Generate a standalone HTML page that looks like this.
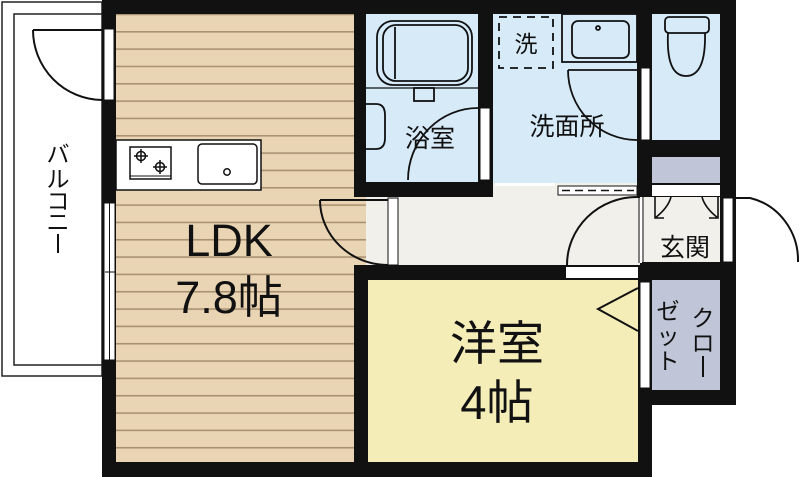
<!DOCTYPE html>
<html><head><meta charset="utf-8"><style>
html,body{margin:0;padding:0;background:#fff}
svg{display:block}
text{font-family:"Liberation Sans","Noto Sans CJK JP",sans-serif;fill:#111}
</style></head><body>
<svg width="800" height="477" viewBox="0 0 800 477" xmlns="http://www.w3.org/2000/svg">
<defs>
<pattern id="fl" x="0" y="31" width="10" height="17.33" patternUnits="userSpaceOnUse">
<rect width="10" height="17.33" fill="#e9d4b3"/><rect y="0" width="10" height="1.6" fill="#a99274"/>
</pattern>
</defs>
<rect x="2" y="2" width="100" height="374" fill="#fff" stroke="#222" stroke-width="1.5"/>
<rect x="14" y="14" width="88" height="351" fill="#fff" stroke="#222" stroke-width="1.5"/>
<rect x="102" y="0" width="634" height="477" fill="#111"/>
<rect x="652" y="405" width="84" height="72" fill="#fff"/>
<rect x="736" y="262" width="64" height="215" fill="#fff"/>
<rect x="116" y="14" width="238" height="448" fill="url(#fl)"/>
<rect x="354" y="197" width="14" height="68" fill="url(#fl)"/>
<rect x="366" y="14" width="112" height="168" fill="#d6eaf8"/>
<rect x="493" y="14" width="144" height="169" fill="#d6eaf8"/>
<rect x="652" y="14" width="68" height="126" fill="#d6eaf8"/>
<rect x="366" y="197" width="274" height="68" fill="#f2f0ea"/>
<rect x="493" y="183" width="144" height="14" fill="#f2f0ea"/>
<rect x="641" y="197" width="79" height="65" fill="#f2f0ea"/>
<rect x="652" y="157" width="68" height="26" fill="#c0c6d8"/>
<rect x="652" y="185" width="68" height="11" fill="#fff"/>
<rect x="368" y="280" width="270" height="182" fill="#f5edb8"/>
<rect x="652" y="280" width="68" height="110" fill="#c0c6d8"/>

<g fill="none" stroke="#111" stroke-width="2">
<path d="M33 30 H102 M33 30 A70 70 0 0 0 102 100"/>
</g>
<rect x="104" y="29" width="10" height="71" fill="#fff" stroke="#111" stroke-width="1"/>
<rect x="104" y="203" width="11" height="157" fill="#fff" stroke="#111" stroke-width="1"/>
<line x1="109.5" y1="203" x2="109.5" y2="360" stroke="#111" stroke-width="1"/>
<line x1="105" y1="272" x2="115" y2="272" stroke="#111" stroke-width="1"/>

<rect x="116" y="140" width="145" height="50" fill="#fff" stroke="#111" stroke-width="1.5"/>
<rect x="130" y="147" width="41" height="32" fill="#fff" stroke="#111" stroke-width="1.5"/>
<line x1="130" y1="176" x2="171" y2="176" stroke="#111" stroke-width="1"/>
<g fill="none" stroke="#111" stroke-width="1.5">
<circle cx="141" cy="156" r="4.5"/><circle cx="160" cy="167" r="4.5"/>
<path d="M141 149v14M134 156h14M160 160v14M153 167h14"/>
<rect x="198" y="144" width="59" height="40" rx="4"/>
<circle cx="227" cy="172" r="3.2"/>
</g>

<g fill="none" stroke="#111" stroke-width="2">
<path d="M320 200 H388 M320 200 A68 65 0 0 0 388 265"/>
</g>
<rect x="388" y="198" width="10" height="67" fill="#fff" stroke="#111" stroke-width="1"/>

<g fill="none" stroke="#111" stroke-width="1.8">
<rect x="377" y="21" width="95" height="64" rx="16"/>
<rect x="383" y="25" width="85" height="56" rx="13"/>
<line x1="395" y1="27" x2="395" y2="79"/>
<rect x="414" y="88" width="20" height="13"/>
<line x1="366" y1="88" x2="478" y2="88" stroke-width="1.2"/>
<path d="M366 104 H376 Q385 104 385 115 V138 Q385 149 376 149 H366"/>
<path d="M408 180 A70 72 0 0 1 478 108"/>
</g>
<rect x="480" y="108" width="10" height="72" fill="#fff" stroke="#111" stroke-width="1"/>

<g fill="none" stroke="#111" stroke-width="1.8">
<rect x="499" y="17" width="54" height="51" stroke-dasharray="8 6"/>
<rect x="562" y="14" width="75" height="48"/>
<rect x="572" y="21" width="57" height="37" rx="6"/>
<circle cx="598" cy="28" r="2"/>
<path d="M568 70 H637 M568 70 A69 70 0 0 0 637 140"/>
</g>
<rect x="641" y="68" width="9" height="72" fill="#fff" stroke="#111" stroke-width="1"/>
<rect x="495" y="183" width="60" height="3" fill="#fff"/>
<rect x="558" y="186" width="79" height="9" fill="#fff" stroke="#111" stroke-width="1"/>
<line x1="562" y1="190.5" x2="634" y2="190.5" stroke="#111" stroke-width="1.5" stroke-dasharray="8 5"/>

<g fill="none" stroke="#111" stroke-width="1.8">
<rect x="665" y="17" width="44" height="16" rx="4"/>
<path d="M668 33 Q666 76 686 76 Q706 76 705 33"/>
</g>

<g fill="none" stroke="#111" stroke-width="2">
<path d="M567 265 A70 68 0 0 1 637 197 H640"/>
</g>
<rect x="566" y="267" width="72" height="11" fill="#fff"/>
<line x1="641" y1="197" x2="641" y2="263" stroke="#fff" stroke-width="2"/>
<line x1="639" y1="197" x2="639" y2="263" stroke="#111" stroke-width="1"/>
<line x1="643" y1="197" x2="643" y2="263" stroke="#111" stroke-width="1"/>

<g fill="none" stroke="#111" stroke-width="1.6">
<path d="M655 197 V218 H664 M655 218 Q668 208 671 197 M718 197 V218 H709 M718 218 Q705 208 702 197"/>
</g>
<rect x="723" y="198" width="10" height="64" fill="#fff" stroke="#111" stroke-width="1"/>
<g fill="none" stroke="#111" stroke-width="2">
<path d="M736 198 H750 A62 64 0 0 1 798 262"/>
</g>

<rect x="640" y="282" width="10" height="106" fill="#fff" stroke="#111" stroke-width="1"/>
<path d="M638 288 L598 309 L638 331" fill="none" stroke="#111" stroke-width="2"/>

<text x="229" y="256" font-size="45" text-anchor="middle">LDK</text>
<text x="229" y="313" font-size="45" text-anchor="middle">7.8帖</text>
<text x="497" y="360" font-size="47" text-anchor="middle">洋室</text>
<text x="497" y="419" font-size="47" text-anchor="middle">4帖</text>
<text x="430" y="147" font-size="25" text-anchor="middle">浴室</text>
<text x="567" y="135" font-size="25" text-anchor="middle">洗面所</text>
<text x="526" y="52" font-size="23" text-anchor="middle">洗</text>
<text x="685" y="256" font-size="25" text-anchor="middle">玄関</text>
<text font-size="23" text-anchor="middle"><tspan x="58" y="162">バ</tspan><tspan x="58" y="187">ル</tspan><tspan x="58" y="209">コ</tspan><tspan x="58" y="230">ニ</tspan></text>
<line x1="58" y1="234" x2="58" y2="253" stroke="#111" stroke-width="2"/>
<text font-size="23" text-anchor="middle"><tspan x="703" y="326">ク</tspan><tspan x="703" y="351">ロ</tspan></text>
<line x1="703" y1="356" x2="703" y2="377" stroke="#111" stroke-width="2"/>
<text font-size="23" text-anchor="middle"><tspan x="668" y="319">ゼ</tspan><tspan x="668" y="344">ッ</tspan><tspan x="668" y="369">ト</tspan></text>
</svg>
</body></html>
